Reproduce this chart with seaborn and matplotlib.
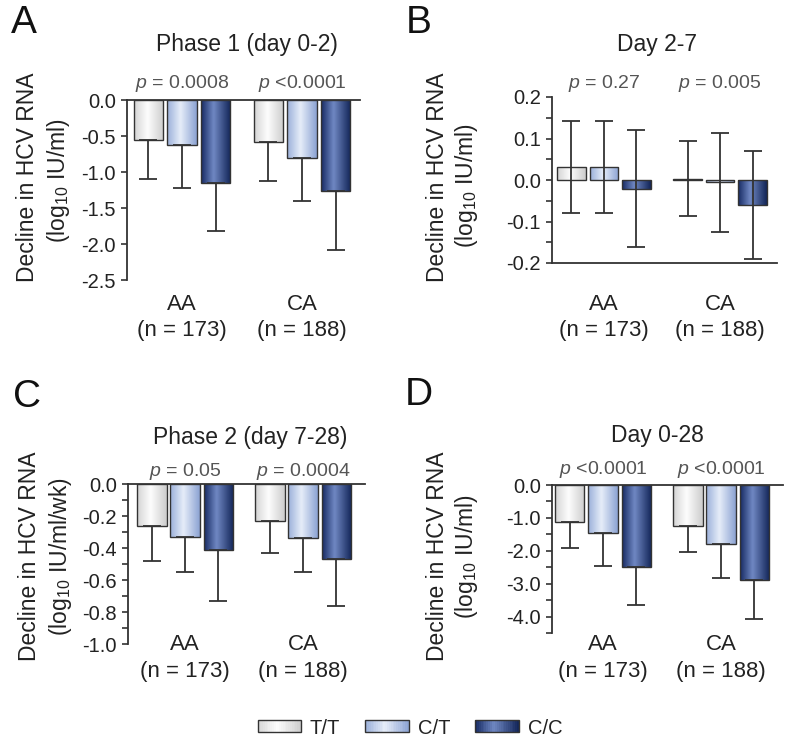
import numpy as np
import pandas as pd
import matplotlib
matplotlib.use('Agg')
import matplotlib.pyplot as plt
import matplotlib.transforms as mtransforms
from matplotlib.colors import LinearSegmentedColormap
from matplotlib.patches import Patch, Rectangle
from matplotlib.legend_handler import HandlerBase
from matplotlib.ticker import MultipleLocator
import seaborn as sns

groups = ['AA', 'CA']
group_n = ['(n = 173)', '(n = 188)']
genotypes = ['T/T', 'C/T', 'C/C']

# bar values, order: AA (T/T, C/T, C/C), CA (T/T, C/T, C/C)
phase1_mean = [-0.55, -0.63, -1.15, -0.59, -0.81, -1.27]
phase1_sd = [0.55, 0.59, 0.67, 0.53, 0.59, 0.82]
day2_7_mean = [0.031, 0.031, -0.021, 0.003, -0.006, -0.061]
day2_7_sd = [0.111, 0.111, 0.141, 0.090, 0.120, 0.130]
phase2_mean = [-0.26, -0.33, -0.41, -0.23, -0.34, -0.47]
phase2_sd = [0.22, 0.22, 0.32, 0.20, 0.21, 0.29]
day0_28_mean = [-1.12, -1.45, -2.50, -1.24, -1.79, -2.88]
day0_28_sd = [0.79, 1.00, 1.14, 0.80, 1.04, 1.20]

p_phase1 = ['= 0.0008', '<0.0001']
p_day2_7 = ['= 0.27', '= 0.005']
p_phase2 = ['= 0.05', '= 0.0004']
p_day0_28 = ['<0.0001', '<0.0001']

ticks_phase1 = [0.0, -0.5, -1.0, -1.5, -2.0, -2.5]
ticks_day2_7 = [0.2, 0.1, 0.0, -0.1, -0.2]
ticks_phase2 = [0.0, -0.2, -0.4, -0.6, -0.8, -1.0]
ticks_day0_28 = [0.0, -1.0, -2.0, -3.0, -4.0]

plt.rcParams['font.family'] = ['Liberation Sans', 'DejaVu Sans']
plt.rcParams['axes.unicode_minus'] = False
plt.rcParams['mathtext.fontset'] = 'custom'
plt.rcParams['mathtext.rm'] = 'Liberation Sans'
plt.rcParams['mathtext.it'] = 'Liberation Sans:italic'

W, H = 800, 753
fx = lambda px: px / W
fy = lambda py: 1 - py / H

flat = {'T/T': '#ececec', 'C/T': '#c0cfea', 'C/C': '#2a4585'}
cmaps = {
    'T/T': LinearSegmentedColormap.from_list('tt', [(0, '#d4d4d4'), (0.45, '#fdfdfd'), (1, '#cdcdcd')]),
    'C/T': LinearSegmentedColormap.from_list('ct', [(0, '#9bb0da'), (0.45, '#e6edf9'), (1, '#8ca3d3')]),
    'C/C': LinearSegmentedColormap.from_list('cc', [(0, '#172b64'), (0.42, '#7088c3'), (1, '#122558')]),
}
grad = np.linspace(0, 1, 64).reshape(1, -1)
dark = '#333333'
txt = '#222222'

fig = plt.figure(figsize=(8, 7.53), dpi=100)

panels = [
    dict(letter='A', mean=phase1_mean, sd=phase1_sd, p=p_phase1, ticks=ticks_phase1, minor=None,
         title='Phase 1 (day 0-2)', unit='(log$_{10}$ IU/ml)', two_sided=False,
         rect=[127, 100, 360, 280], xlim=(-0.458, 1.483), ylim=(-2.5, 0),
         letter_xy=(11, 23), title_xy=(247, 45), lab1=(28, 177), lab2=(59, 181),
         p_y=83, cat_y=(305, 330)),
    dict(letter='B', mean=day2_7_mean, sd=day2_7_sd, p=p_day2_7, ticks=ticks_day2_7, minor=0.05,
         title='Day 2-7', unit='(log$_{10}$ IU/ml)', two_sided=True,
         rect=[552, 97, 777, 263], xlim=(-0.448, 1.491), ylim=(-0.2, 0.2),
         letter_xy=(406, 23), title_xy=(657, 45), lab1=(437, 177), lab2=(467, 186),
         p_y=83, cat_y=(305, 330)),
    dict(letter='C', mean=phase2_mean, sd=phase2_sd, p=p_phase2, ticks=ticks_phase2, minor=0.1,
         title='Phase 2 (day 7-28)', unit='(log$_{10}$ IU/ml/wk)', two_sided=False,
         rect=[128, 484, 365, 644], xlim=(-0.483, 1.525), ylim=(-1.0, 0),
         letter_xy=(13, 397), title_xy=(250, 437), lab1=(30, 556), lab2=(61, 557),
         p_y=472, cat_y=(645, 672)),
    dict(letter='D', mean=day0_28_mean, sd=day0_28_sd, p=p_day0_28, ticks=ticks_day0_28, minor=0.5,
         title='Day 0-28', unit='(log$_{10}$ IU/ml)', two_sided=False,
         rect=[552, 485, 783, 633], xlim=(-0.432, 1.525), ylim=(-4.5, 0),
         letter_xy=(405, 395), title_xy=(657, 435), lab1=(437, 556), lab2=(467, 557),
         p_y=470, cat_y=(645, 672)),
]

for cfg in panels:
    l, t, r, b = cfg['rect']
    ax = fig.add_axes([fx(l), fy(b), (r - l) / W, (b - t) / H])
    df = pd.DataFrame({'group': np.repeat(groups, 3), 'genotype': genotypes * 2,
                       'value': cfg['mean'], 'sd': cfg['sd']})
    sns.barplot(data=df, x='group', y='value', hue='genotype', order=groups,
                hue_order=genotypes, palette=flat, width=0.84, gap=0.12,
                errorbar=None, edgecolor=dark, linewidth=1.0, legend=False, ax=ax)

    bar_conts = list(ax.containers)
    for k, cont in enumerate(bar_conts):
        g = genotypes[k]
        for bar in cont.patches:
            x0, w = bar.get_x(), bar.get_width()
            y0, h = bar.get_y(), bar.get_height()
            gi = int(round(x0 + w / 2))
            row = df[(df.group == groups[gi]) & (df.genotype == g)].iloc[0]
            # shaded fill clipped to the bar
            img = ax.imshow(grad, cmap=cmaps[g], aspect='auto', interpolation='bicubic',
                            extent=(x0, x0 + w, min(y0, y0 + h), max(y0, y0 + h)),
                            zorder=bar.get_zorder() - 0.05)
            img.set_clip_path(bar)
            bar.set_facecolor('none')
            up = row.sd if cfg['two_sided'] else 0
            ax.errorbar(x0 + w / 2, row.value, yerr=[[row.sd], [up]], fmt='none',
                        ecolor=dark, elinewidth=1.3, capsize=6.5, capthick=1.3,
                        zorder=bar.get_zorder() + 1)

    ax.set_xlim(cfg['xlim'])
    ax.set_ylim(cfg['ylim'])
    ax.set_xlabel('')
    ax.set_ylabel('')
    sns.despine(ax=ax)
    for s in ['left', 'bottom']:
        ax.spines[s].set_linewidth(1.3)
        ax.spines[s].set_color(dark)
    if not cfg['two_sided']:
        ax.spines['bottom'].set_position(('data', 0))
    ax.tick_params(axis='x', length=0, labelbottom=False)
    ax.set_yticks(cfg['ticks'])
    ax.set_yticklabels(['%.1f' % v for v in cfg['ticks']])
    if cfg['minor']:
        ax.yaxis.set_minor_locator(MultipleLocator(cfg['minor']))
    ax.tick_params(axis='y', which='both', length=4, width=1.2, color=dark,
                   labelsize=14.5, labelcolor=txt, pad=4)

    tr = mtransforms.blended_transform_factory(ax.transData, fig.transFigure)
    for gi, grp in enumerate(groups):
        ax.text(gi, fy(cfg['cat_y'][0]), grp, transform=tr, ha='center', va='center',
                fontsize=16, color=txt)
        ax.text(gi, fy(cfg['cat_y'][1]), group_n[gi], transform=tr, ha='center', va='center',
                fontsize=16, color=txt)
        ax.text(gi, fy(cfg['p_y']), '$p$ ' + cfg['p'][gi], transform=tr, ha='center',
                va='center', fontsize=14, color='#555555')

    fig.text(fx(cfg['letter_xy'][0]), fy(cfg['letter_xy'][1]), cfg['letter'], ha='left',
             va='center', fontsize=28, color='#111111')
    fig.text(fx(cfg['title_xy'][0]), fy(cfg['title_xy'][1]), cfg['title'], ha='center',
             va='center', fontsize=16.5, color=txt)
    fig.text(fx(cfg['lab1'][0]), fy(cfg['lab1'][1]), 'Decline in HCV RNA', rotation=90,
             ha='center', va='center', fontsize=16.5, color=txt)
    fig.text(fx(cfg['lab2'][0]), fy(cfg['lab2'][1]), cfg['unit'], rotation=90,
             ha='center', va='center', fontsize=16.5, color=txt)


class GradHandler(HandlerBase):
    def __init__(self, cmap):
        super().__init__()
        self.cmap = cmap

    def create_artists(self, legend, orig_handle, xdescent, ydescent, width, height,
                       fontsize, trans):
        n = 24
        arts = [Rectangle((-xdescent + width * i / n, -ydescent), width / n + 0.3, height,
                          facecolor=self.cmap((i + 0.5) / n), edgecolor='none',
                          transform=trans) for i in range(n)]
        arts.append(Rectangle((-xdescent, -ydescent), width, height, facecolor='none',
                              edgecolor=dark, lw=1.0, transform=trans))
        return arts


handles = [Patch(facecolor=flat[g], edgecolor=dark, label=g) for g in genotypes]
fig.legend(handles=handles, labels=genotypes, ncol=3, loc='center',
           bbox_to_anchor=(fx(410), fy(728)), frameon=False, fontsize=14.5,
           handlelength=2.15, handleheight=0.55, handletextpad=0.45, columnspacing=1.25,
           labelcolor=txt,
           handler_map={h: GradHandler(cmaps[g]) for h, g in zip(handles, genotypes)})

fig.savefig('out.png', dpi=100)
